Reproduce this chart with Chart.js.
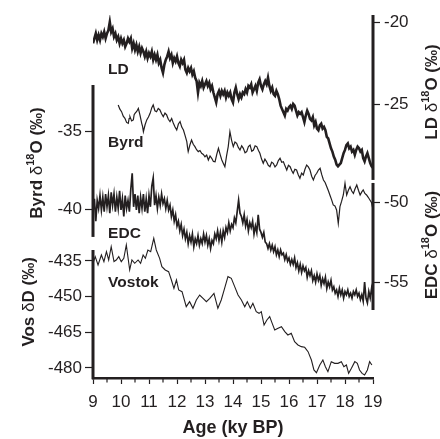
<!DOCTYPE html>
<html>
<head>
<meta charset="utf-8">
<script src="https://cdn.jsdelivr.net/npm/chart.js@4.4.1/dist/chart.umd.min.js"></script>
<style>
  html, body { margin: 0; padding: 0; background: #fff; }
  #wrap { width: 440px; height: 439px; }
</style>
</head>
<body>
<div id="wrap"><canvas id="myChart" width="440" height="439"></canvas></div>
<script>
// ---- data (age in ky BP) ----
const ldStart = 9, ldStep = 0.05;
const ldVal = [
  -21.3, -21.0, -20.7, -21.1, -20.8, -21.1, -20.7, -20.9, -20.6, -21.0,
  -20.7, -20.5, -20.0, -20.6, -20.4, -20.9, -20.7, -21.1, -20.9, -21.3,
  -21.0, -21.3, -21.1, -21.5, -21.3, -21.0, -21.2, -21.0, -21.6, -21.3,
  -21.7, -21.4, -21.8, -21.5, -21.9, -21.6, -21.8, -22.1, -21.8, -22.2,
  -21.9, -22.1, -21.8, -22.3, -22.0, -22.3, -22.0, -22.5, -22.3, -22.8,
  -23.1, -22.6, -22.3, -22.1, -21.8, -22.2, -22.0, -22.5, -22.2, -22.4,
  -22.1, -22.5, -22.7, -22.3, -22.5, -22.3, -22.9, -23.1, -22.8, -23.0,
  -22.8, -23.2, -23.0, -23.4, -23.6, -24.3, -23.7, -23.9, -23.6, -24.0,
  -23.8, -23.6, -23.9, -23.7, -24.1, -23.9, -24.3, -24.6, -24.9, -24.4,
  -24.2, -24.5, -24.2, -24.4, -24.2, -24.6, -24.3, -24.5, -24.3, -24.7,
  -24.9, -24.3, -24.0, -24.4, -24.7, -24.4, -24.6, -24.3, -24.4, -24.1,
  -24.3, -23.9, -24.0, -23.8, -24.3, -24.1, -23.9, -24.2, -23.7, -23.5,
  -23.9, -24.1, -23.8, -23.6, -23.8, -23.4, -23.9, -24.2, -24.0, -24.4,
  -24.5, -24.2, -24.4, -24.7, -25.1, -25.3, -25.5, -25.7, -25.3, -25.4,
  -25.2, -25.1, -25.3, -25.0, -25.1, -25.4, -25.7, -25.5, -25.6, -25.5,
  -25.8, -26.1, -25.7, -25.4, -25.6, -25.9, -26.0, -25.8, -26.3, -26.1,
  -26.5, -26.6, -26.3, -26.2, -26.5, -26.4, -26.6, -27.0, -27.1, -27.4,
  -27.7, -27.9, -28.2, -28.4, -28.7, -28.8, -28.7, -28.6, -28.3, -28.0,
  -27.8, -27.5, -27.4, -27.7, -27.6, -27.9, -27.8, -28.1, -27.8, -27.6,
  -27.7, -27.9, -27.8, -28.3, -28.5, -28.2, -28.0, -28.3, -28.6, -28.8,
  -28.9
];

const edcStart = 9, edcStep = 0.05;
const edcVal = [
  -50.6, -49.8, -51.2, -49.9, -50.4, -49.6, -50.5, -49.7, -50.6, -49.5,
  -50.3, -49.6, -50.7, -49.4, -50.2, -49.5, -50.6, -49.7, -50.4, -49.3,
  -50.5, -49.8, -50.9, -49.6, -50.4, -49.9, -50.6, -49.2, -48.2, -50.3,
  -49.5, -50.5, -49.6, -50.7, -49.7, -50.4, -49.5, -50.6, -49.8, -50.7,
  -49.6, -50.3, -49.0, -48.5, -50.2, -49.6, -50.4, -49.7, -50.2, -49.5,
  -50.1, -49.8, -50.4, -49.9, -50.5, -50.2, -50.9, -50.5, -51.2, -50.8,
  -51.5, -51.2, -51.8, -51.4, -52.1, -51.7, -52.3, -51.9, -52.6, -52.1,
  -52.5, -52.0, -52.8, -52.3, -52.6, -52.1, -52.7, -52.3, -52.6, -52.0,
  -52.5, -52.1, -52.7, -52.3, -52.9, -52.4, -52.6, -52.0, -52.3, -51.8,
  -52.4, -51.9, -52.5, -51.8, -52.2, -51.6, -51.9, -51.3, -51.8, -51.4,
  -51.6, -51.0, -51.3, -50.6, -49.9, -50.7, -50.9, -51.3, -50.8, -51.5,
  -51.1, -51.8, -51.3, -51.6, -51.2, -52.0, -51.5, -51.9, -50.8, -51.7,
  -51.9, -52.2, -51.9, -52.5, -52.6, -52.9, -52.6, -53.0, -52.7, -53.1,
  -52.8, -53.3, -53.0, -53.4, -53.0, -53.3, -53.2, -53.6, -53.3, -53.7,
  -53.5, -53.9, -53.6, -53.9, -53.5, -54.1, -53.8, -54.3, -53.9, -54.4,
  -54.0, -54.3, -54.1, -54.7, -54.3, -54.6, -54.3, -54.9, -54.6, -55.0,
  -54.5, -54.9, -54.6, -55.2, -54.8, -55.1, -54.7, -55.4, -55.0, -55.3,
  -54.9, -55.5, -55.3, -55.7, -55.5, -55.9, -55.4, -55.8, -55.5, -56.0,
  -55.6, -55.8, -55.5, -55.9, -55.7, -56.0, -55.6, -55.8, -55.5, -55.9,
  -55.7, -56.1, -55.8, -56.2, -55.0, -56.0, -56.3, -55.6, -56.0, -55.4,
  -55.9
];

const byrdAge = [
  9.90, 9.96, 10.02, 10.08, 10.14, 10.20, 10.26, 10.29, 10.32, 10.38,
  10.44, 10.47, 10.50, 10.56, 10.62, 10.68, 10.74, 10.77, 10.80, 10.86,
  10.92, 10.98, 11.04, 11.10, 11.15, 11.21, 11.27, 11.33, 11.39, 11.45,
  11.51, 11.57, 11.63, 11.69, 11.75, 11.81, 11.87, 11.93, 11.99, 12.05,
  12.11, 12.17, 12.23, 12.29, 12.35, 12.38, 12.40, 12.46, 12.52, 12.58,
  12.64, 12.70, 12.76, 12.82, 12.88, 12.94, 13.00, 13.06, 13.12, 13.18,
  13.24, 13.30, 13.36, 13.42, 13.48, 13.54, 13.60, 13.66, 13.71, 13.77,
  13.83, 13.89, 13.95, 14.01, 14.07, 14.13, 14.19, 14.25, 14.31, 14.37,
  14.43, 14.49, 14.55, 14.61, 14.67, 14.73, 14.79, 14.85, 14.91, 14.96,
  15.02, 15.08, 15.14, 15.20, 15.26, 15.32, 15.38, 15.44, 15.50, 15.56,
  15.62, 15.68, 15.74, 15.80, 15.86, 15.92, 15.98, 16.04, 16.10, 16.15,
  16.21, 16.27, 16.33, 16.39, 16.45, 16.51, 16.57, 16.63, 16.69, 16.75,
  16.81, 16.87, 16.93, 16.99, 17.05, 17.11, 17.17, 17.23, 17.29, 17.35,
  17.41, 17.46, 17.52, 17.58, 17.64, 17.70, 17.76, 17.82, 17.88, 17.94,
  18.00, 18.06, 18.12, 18.18, 18.24, 18.30, 18.36, 18.42, 18.48, 18.54,
  18.60, 18.65, 18.71, 18.77, 18.83, 18.89, 18.95, 18.99
];
const byrdVal = [
  -33.33, -33.6, -33.76, -34.05, -34.19, -34.45, -34.51, -34.2, -34.08, -34.35,
  -34.29, -33.95, -33.87, -33.75, -33.55, -34.0, -34.51, -34.7, -35.04, -34.6,
  -34.29, -34.1, -33.87, -33.5, -33.33, -33.7, -33.76, -33.55, -33.65, -33.9,
  -34.08, -33.85, -33.97, -34.25, -34.40, -34.2, -34.51, -34.75, -34.94, -34.55,
  -34.40, -34.75, -34.94, -35.3, -35.68, -36.1, -36.32, -35.9, -35.58, -35.85,
  -36.00, -36.2, -36.32, -36.25, -36.43, -36.5, -36.65, -36.55, -36.86, -36.6,
  -36.75, -36.95, -36.97, -36.5, -36.11, -36.5, -36.86, -37.1, -37.29, -36.6,
  -36.00, -35.04, -35.6, -36.00, -35.7, -35.79, -36.05, -36.22, -35.95, -36.11,
  -36.4, -36.32, -36.0, -35.90, -36.3, -36.22, -35.95, -36.00, -36.25, -36.43,
  -36.8, -37.07, -36.8, -36.97, -37.2, -37.29, -37.0, -37.07, -37.3, -37.18,
  -36.9, -36.75, -37.0, -36.97, -37.25, -37.50, -37.2, -37.29, -37.55, -37.71,
  -37.45, -37.50, -37.8, -38.03, -37.7, -37.82, -37.45, -37.18, -37.3, -37.50,
  -37.9, -38.14, -37.85, -37.71, -37.5, -37.39, -37.8, -38.14, -38.3, -38.57,
  -38.85, -39.10, -39.4, -39.74, -39.8, -40.06, -40.92, -39.85, -39.5, -39.10,
  -38.35, -39.10, -38.8, -38.57, -38.85, -39.00, -38.7, -38.46, -38.8, -39.10,
  -38.9, -38.78, -39.0, -39.10, -39.25, -39.42, -39.6, -39.96
];

const vosAge = [
  9.00, 9.08, 9.18, 9.30, 9.39, 9.48, 9.56, 9.65, 9.75, 9.83,
  9.92, 10.01, 10.10, 10.19, 10.31, 10.39, 10.49, 10.61, 10.70, 10.79,
  10.87, 10.96, 11.06, 11.17, 11.26, 11.38, 11.46, 11.58, 11.70, 11.80,
  11.89, 11.98, 12.06, 12.18, 12.33, 12.45, 12.57, 12.69, 12.81, 12.93,
  13.05, 13.17, 13.32, 13.46, 13.58, 13.70, 13.82, 13.94, 14.06, 14.18,
  14.30, 14.42, 14.51, 14.62, 14.71, 14.83, 14.93, 15.01, 15.11, 15.21,
  15.31, 15.40, 15.49, 15.61, 15.73, 15.85, 15.96, 16.08, 16.20, 16.32,
  16.44, 16.56, 16.68, 16.80, 16.89, 16.98, 17.10, 17.21, 17.30, 17.39,
  17.51, 17.63, 17.75, 17.87, 17.96, 18.05, 18.13, 18.23, 18.35, 18.44,
  18.52, 18.61, 18.70, 18.80, 18.88, 18.96
];
const vosVal = [
  -435.98, -433.18, -436.68, -432.48, -435.28, -431.07, -434.58, -428.97, -435.28, -434.58,
  -433.18, -435.28, -433.88, -428.27, -438.79, -434.58, -435.98, -434.58, -435.98, -432.48,
  -433.88, -430.37, -431.07, -425.47, -430.37, -433.88, -437.38, -438.79, -439.49, -442.99,
  -446.50, -442.99, -447.20, -447.90, -454.21, -452.10, -454.91, -451.40, -449.30, -450.70,
  -452.10, -450.70, -448.60, -454.91, -451.40, -446.50, -441.59, -442.29, -445.79, -449.30,
  -451.40, -454.21, -452.10, -454.91, -452.80, -456.31, -457.01, -456.31, -461.92, -459.81,
  -458.41, -461.22, -464.02, -463.32, -462.62, -464.72, -466.12, -465.42, -468.93, -470.33,
  -471.03, -471.31, -473.13, -476.64, -480.84, -481.96, -478.74, -476.64, -479.44, -481.54,
  -477.34, -478.04, -478.04, -477.34, -479.44, -478.74, -482.25, -480.14, -477.34, -478.04,
  -480.84, -482.25, -482.95, -480.84, -477.34, -478.74
];

// tick labels
const ageTicks = [9, 10, 11, 12, 13, 14, 15, 16, 17, 18, 19];
const ldTicks = [-20, -25];
const byrdTicks = [-35, -40];
const edcTicks = [-50, -55];
const vosTicks = [-435, -450, -465, -480];

// ---- look ----
const ink = "#231f20";
const fam = "'Liberation Sans', Arial, Helvetica, sans-serif";

const ldAge = ldVal.map((v, i) => +(ldStart + i * ldStep).toFixed(2));
const edcAge = edcVal.map((v, i) => +(edcStart + i * edcStep).toFixed(2));
const pts = (ages, vals) => ages.map((a, i) => ({ x: a, y: vals[i] }));

// each y scale spans the whole plot height; "spine" is the part of the axis line that is drawn
const axes = {
  yLD:   { pos: "right", min: -41.707, max: -19.573, spine: [-19.573, -29.63], ticks: ldTicks, tl: 7, pad: 4 },
  yByrd: { pos: "left",  min: -50.833, max: -27.564, spine: [-32.05, -41.79], ticks: byrdTicks, tl: 8, pad: 3 },
  yEDC:  { pos: "right", min: -61.0,   max: -38.3125, spine: [-48.81, -56.75], ticks: edcTicks, tl: 7, pad: 4 },
  yVos:  { pos: "left",  min: -484.21, max: -331.56, spine: [-430.37, -484.21], ticks: vosTicks, tl: 8, pad: 3 },
};

const seriesLabels = [
  { text: "LD", axis: "yLD", x: 9.54, y: -22.93 },
  { text: "Byrd", axis: "yByrd", x: 9.54, y: -35.74 },
  { text: "EDC", axis: "yEDC", x: 9.54, y: -52.0 },
  { text: "Vostok", axis: "yVos", x: 9.54, y: -444.25 },
];

const axisTitles = [
  { axis: "yByrd", dx: -56, y: -37.05, parts: [["Byrd ", 1], ["\u03b4", 0], ["18", 1, 1], ["O (\u2030)", 1]] },
  { axis: "yVos", dx: -64, y: -452.2, parts: [["Vos ", 1], ["\u03b4", 0], ["D (\u2030)", 1]] },
  { axis: "yLD", dx: 59, y: -24.27, parts: [["LD ", 1], ["\u03b4", 0], ["18", 1, 1], ["O (\u2030)", 1]] },
  { axis: "yEDC", dx: 59, y: -52.69, parts: [["EDC ", 1], ["\u03b4", 0], ["18", 1, 1], ["O (\u2030)", 1]] },
];

const drawRotated = (ctx, parts, cx, cy, size) => {
  const fontOf = (p) => `${p[1] ? "bold " : ""}${p[2] ? Math.round(size * 0.62) : size}px ${fam}`;
  let w = 0;
  parts.forEach((p) => { ctx.font = fontOf(p); w += ctx.measureText(p[0]).width; });
  ctx.save();
  ctx.translate(cx, cy);
  ctx.rotate(-Math.PI / 2);
  ctx.textBaseline = "middle";
  ctx.textAlign = "left";
  let x = -w / 2;
  parts.forEach((p) => {
    ctx.font = fontOf(p);
    ctx.fillText(p[0], x, p[2] ? -size * 0.36 : 0);
    x += ctx.measureText(p[0]).width;
  });
  ctx.restore();
};

const overlay = {
  id: "overlay",
  afterDraw(chart) {
    const { ctx, chartArea, scales } = chart;
    const xs = scales.x;
    ctx.save();
    ctx.strokeStyle = ink;
    ctx.fillStyle = ink;

    // y spines and their tick labels
    Object.keys(axes).forEach((id) => {
      const a = axes[id];
      const s = scales[id];
      const left = a.pos === "left";
      const x = left ? chartArea.left : chartArea.right;
      let y1 = s.getPixelForValue(a.spine[0]);
      let y2 = s.getPixelForValue(a.spine[1]);
      if (id === "yVos") y2 += 1.3;
      ctx.lineWidth = 3;
      ctx.beginPath();
      ctx.moveTo(x, y1);
      ctx.lineTo(x, y2);
      ctx.stroke();

      ctx.font = `17px ${fam}`;
      ctx.textBaseline = "middle";
      ctx.textAlign = left ? "right" : "left";
      const lx = left ? x - a.tl - a.pad : x + a.tl + a.pad;
      s.ticks.forEach((t, i) => {
        ctx.fillText(t.label, lx, s.getPixelForTick(i));
      });
    });

    // minor ticks on age axis
    ctx.lineWidth = 1.2;
    for (let k = 0; k < ageTicks.length - 1; k++) {
      const px = xs.getPixelForValue(ageTicks[k] + 0.5);
      ctx.beginPath();
      ctx.moveTo(px, chartArea.bottom);
      ctx.lineTo(px, chartArea.bottom + 4.5);
      ctx.stroke();
    }

    // series names
    ctx.font = `bold 15.5px ${fam}`;
    ctx.textBaseline = "middle";
    ctx.textAlign = "left";
    seriesLabels.forEach((l) => {
      ctx.fillText(l.text, xs.getPixelForValue(l.x), scales[l.axis].getPixelForValue(l.y));
    });

    // axis titles
    axisTitles.forEach((t) => {
      const a = axes[t.axis];
      const base = a.pos === "left" ? chartArea.left : chartArea.right;
      drawRotated(ctx, t.parts, base + t.dx, scales[t.axis].getPixelForValue(t.y), 17);
    });
    ctx.restore();
  },
};

const yScale = (id) => {
  const a = axes[id];
  return {
    type: "linear",
    position: a.pos,
    min: a.min,
    max: a.max,
    afterFit: (scale) => { scale.width = 0; },
    afterBuildTicks: (scale) => { scale.ticks = a.ticks.map((v) => ({ value: v })); },
    border: { display: false },
    grid: { drawOnChartArea: false, drawTicks: true, tickLength: a.tl, tickWidth: 1.2, tickColor: ink },
    ticks: { color: ink, padding: a.pad, font: { family: fam, size: 17 } },
  };
};

const line = (data, axis, width) => ({
  data,
  yAxisID: axis,
  borderColor: ink,
  borderWidth: width,
  pointRadius: 0,
  tension: 0,
  fill: false,
  borderJoinStyle: "miter",
});

const chartCtx = document.getElementById("myChart").getContext("2d");
window.chart = new Chart(chartCtx, {
  type: "line",
  data: {
    datasets: [
      line(pts(ldAge, ldVal), "yLD", 2.6),
      line(pts(byrdAge, byrdVal), "yByrd", 1.2),
      line(pts(edcAge, edcVal), "yEDC", 1.7),
      line(pts(vosAge, vosVal), "yVos", 1.1),
    ],
  },
  options: {
    responsive: false,
    animation: false,
    layout: { padding: { left: 93, right: 67, top: 15, bottom: 0 } },
    plugins: { legend: { display: false }, tooltip: { enabled: false } },
    scales: {
      x: {
        type: "linear",
        min: 9,
        max: 19,
        afterFit: (scale) => { scale.height = 61; },
        afterBuildTicks: (scale) => { scale.ticks = ageTicks.map((v) => ({ value: v })); },
        border: { display: true, color: ink, width: 2.5 },
        grid: { drawOnChartArea: false, drawTicks: true, tickLength: 6, tickWidth: 1.2, tickColor: ink },
        ticks: { color: ink, padding: 8, maxRotation: 0, font: { family: fam, size: 17 } },
        title: { display: true, text: "Age (ky BP)", color: ink, padding: { top: 0, bottom: 0 }, font: { family: fam, size: 18, weight: "bold" } },
      },
      yLD: yScale("yLD"),
      yByrd: yScale("yByrd"),
      yEDC: yScale("yEDC"),
      yVos: yScale("yVos"),
    },
  },
  plugins: [overlay],
});
</script>
</body>
</html>
